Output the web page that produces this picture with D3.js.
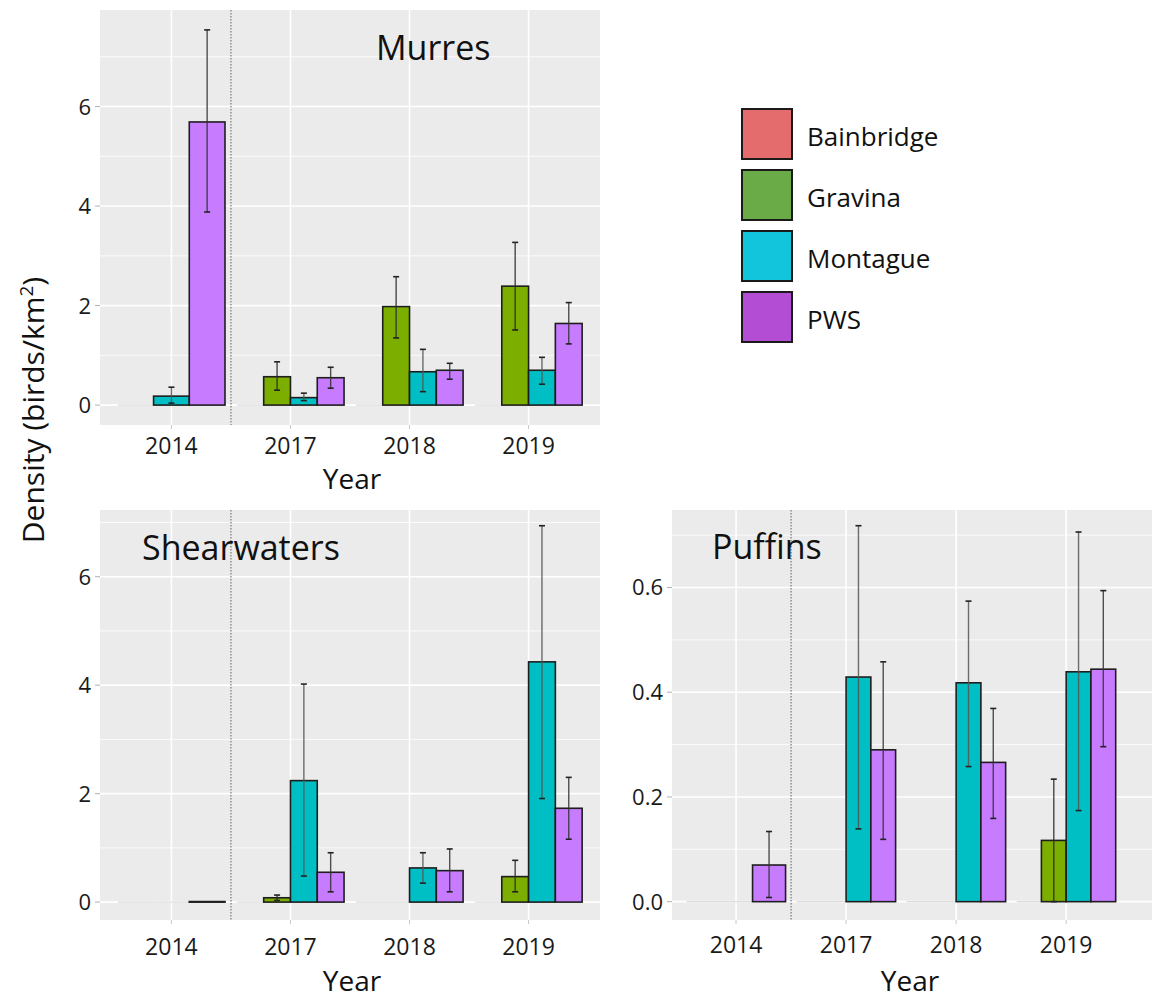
<!DOCTYPE html>
<html>
<head>
<meta charset="utf-8">
<script src="https://cdn.jsdelivr.net/npm/d3@7/dist/d3.min.js"></script>
<style>
  html, body { margin: 0; padding: 0; background: #ffffff; }
  svg { display: block; font-family: "Open Sans", "DejaVu Sans", sans-serif; }
</style>
</head>
<body>
<svg id="chart" width="1157" height="1000"></svg>
<script>
// ---------------- DATA ----------------
const years = ["2014", "2017", "2018", "2019"];
const sites = ["Bainbridge", "Gravina", "Montague", "PWS"];
const barColors = ["#F8766D", "#7CAE00", "#00BFC4", "#C77CFF"];
const legendColors = ["#E46C6C", "#6AAB47", "#12C5DC", "#B24DD4"];

// rows = years, columns = sites (null = not surveyed that year)
const murresMean = [[0, null, 0.18, 5.69], [0, 0.57, 0.15, 0.55], [0, 1.98, 0.67, 0.70], [0, 2.39, 0.70, 1.64]];
const murresLow  = [[null, null, 0.04, 3.88], [null, 0.30, 0.09, 0.34], [null, 1.35, 0.27, 0.52], [null, 1.51, 0.42, 1.23]];
const murresHigh = [[null, null, 0.36, 7.54], [null, 0.87, 0.24, 0.76], [null, 2.58, 1.12, 0.84], [null, 3.27, 0.96, 2.06]];

const shearMean = [[0, null, 0, 0.01], [0, 0.08, 2.24, 0.55], [0, 0, 0.63, 0.58], [0, 0.47, 4.43, 1.73]];
const shearLow  = [[null, null, null, null], [null, 0.03, 0.48, 0.19], [null, null, 0.35, 0.19], [null, 0.19, 1.91, 1.16]];
const shearHigh = [[null, null, null, null], [null, 0.13, 4.02, 0.91], [null, null, 0.91, 0.98], [null, 0.77, 6.94, 2.30]];

const puffinMean = [[0, null, 0, 0.070], [0, 0, 0.429, 0.290], [0, 0, 0.418, 0.266], [0, 0.117, 0.439, 0.444]];
const puffinLow  = [[null, null, null, 0.008], [null, null, 0.139, 0.119], [null, null, 0.258, 0.159], [null, 0.0, 0.174, 0.296]];
const puffinHigh = [[null, null, null, 0.134], [null, null, 0.718, 0.458], [null, null, 0.574, 0.369], [null, 0.234, 0.706, 0.594]];

const murresTicks = [0, 2, 4, 6];
const murresMinor = [1, 3, 5, 7];
const shearTicks = [0, 2, 4, 6];
const shearMinor = [1, 3, 5, 7];
const puffinTicks = [0, 0.2, 0.4, 0.6];
const puffinMinor = [0.1, 0.3, 0.5, 0.7];
const puffinTickLabels = ["0.0", "0.2", "0.4", "0.6"];

// ---------------- LAYOUT ----------------
const svg = d3.select("#chart");

const panels = [
  { title: "Murres", mean: murresMean, low: murresLow, high: murresHigh,
    ticks: murresTicks, minor: murresMinor, tickFmt: d => String(d),
    left: 100, right: 600, top: 10, bottom: 425,
    xDomain: [0.4, 4.6], yDomain: [-0.40, 7.94],
    titleX: 376, titleY: 60, xLabY: 454, yearX: 352, yearY: 489 },
  { title: "Shearwaters", mean: shearMean, low: shearLow, high: shearHigh,
    ticks: shearTicks, minor: shearMinor, tickFmt: d => String(d),
    left: 100, right: 600, top: 510, bottom: 920,
    xDomain: [0.4, 4.6], yDomain: [-0.33, 7.23],
    titleX: 142, titleY: 560, xLabY: 955, yearX: 352, yearY: 991 },
  { title: "Puffins", mean: puffinMean, low: puffinLow, high: puffinHigh,
    ticks: puffinTicks, minor: puffinMinor, tickFmt: (d, i) => puffinTickLabels[i],
    left: 672, right: 1152, top: 510, bottom: 920,
    xDomain: [0.418, 4.78], yDomain: [-0.035, 0.748],
    titleX: 712, titleY: 559, xLabY: 953, yearX: 910, yearY: 991 }
];

const errColors = ["#444444", "#2b2b2b", "#555555", "#333333"];

panels.forEach(p => {
  const x = d3.scaleLinear().domain(p.xDomain).range([p.left, p.right]);
  const y = d3.scaleLinear().domain(p.yDomain).range([p.bottom, p.top]);
  const g = svg.append("g");

  // background
  g.append("rect")
    .attr("x", p.left).attr("y", p.top)
    .attr("width", p.right - p.left).attr("height", p.bottom - p.top)
    .attr("fill", "#EBEBEB");

  // minor horizontal gridlines
  g.selectAll(".minor").data(p.minor.filter(v => y(v) > p.top)).enter().append("line")
    .attr("x1", p.left).attr("x2", p.right)
    .attr("y1", d => y(d)).attr("y2", d => y(d))
    .attr("stroke", "#ffffff").attr("stroke-width", 0.8);

  // major horizontal gridlines
  g.selectAll(".major").data(p.ticks).enter().append("line")
    .attr("x1", p.left).attr("x2", p.right)
    .attr("y1", d => y(d)).attr("y2", d => y(d))
    .attr("stroke", "#ffffff").attr("stroke-width", 1.6);

  // vertical gridlines at categories
  g.selectAll(".vgrid").data(years).enter().append("line")
    .attr("x1", (d, i) => x(i + 1)).attr("x2", (d, i) => x(i + 1))
    .attr("y1", p.top).attr("y2", p.bottom)
    .attr("stroke", "#ffffff").attr("stroke-width", 1.6);

  // dotted separator between 2014 and 2017
  g.append("line")
    .attr("x1", x(1.5)).attr("x2", x(1.5))
    .attr("y1", p.top).attr("y2", p.bottom)
    .attr("stroke", "#777777").attr("stroke-width", 1.2)
    .attr("stroke-dasharray", "1.5,1.5");

  // bars
  years.forEach((yr, yi) => {
    const row = p.mean[yi];
    const present = sites.map((s, si) => si).filter(si => row[si] !== null);
    const n = present.length;
    const w = 0.9 / n;
    present.forEach((si, k) => {
      const x0 = (yi + 1) - 0.45 + k * w;
      const v = row[si];
      const bx = x(x0), bw = x(x0 + w) - x(x0);
      if (v === 0) {
        g.append("line")
          .attr("x1", bx).attr("x2", bx + bw)
          .attr("y1", y(0)).attr("y2", y(0))
          .attr("stroke", "#d4d4d4").attr("stroke-width", 1);
      } else {
        g.append("rect")
          .attr("x", bx).attr("y", y(v))
          .attr("width", bw).attr("height", Math.max(0.6, y(0) - y(v)))
          .attr("fill", barColors[si])
          .attr("stroke", "#1e1e1e").attr("stroke-width", 1.6);
      }
      const lo = p.low[yi][si], hi = p.high[yi][si];
      if (lo !== null && hi !== null) {
        const cx = x(x0 + w / 2);
        const cap = 3;
        const ec = errColors[si];
        g.append("line").attr("x1", cx).attr("x2", cx)
          .attr("y1", y(lo)).attr("y2", y(hi))
          .attr("stroke", ec).attr("stroke-width", 1.4).attr("opacity", 0.85);
        [lo, hi].forEach(e => {
          g.append("line").attr("x1", cx - cap).attr("x2", cx + cap)
            .attr("y1", y(e)).attr("y2", y(e))
            .attr("stroke", "#222222").attr("stroke-width", 1.6);
        });
      }
    });
  });

  // y axis ticks + labels
  g.selectAll(".ytick").data(p.ticks).enter().append("line")
    .attr("x1", p.left - 5).attr("x2", p.left)
    .attr("y1", d => y(d)).attr("y2", d => y(d))
    .attr("stroke", "#b0b0b0").attr("stroke-width", 1);
  g.selectAll(".ylab").data(p.ticks).enter().append("text")
    .attr("x", p.left - 9).attr("y", d => y(d) + 8)
    .attr("text-anchor", "end")
    .attr("font-size", 22).attr("fill", "#1a1a1a")
    .text((d, i) => p.tickFmt(d, i));

  // x axis ticks + labels
  g.selectAll(".xtick").data(years).enter().append("line")
    .attr("x1", (d, i) => x(i + 1)).attr("x2", (d, i) => x(i + 1))
    .attr("y1", p.bottom).attr("y2", p.bottom + 4)
    .attr("stroke", "#c8c8c8").attr("stroke-width", 1);
  g.selectAll(".xlab").data(years).enter().append("text")
    .attr("x", (d, i) => x(i + 1)).attr("y", p.xLabY)
    .attr("text-anchor", "middle")
    .attr("font-size", 23).attr("fill", "#1a1a1a")
    .text(d => d);

  // axis title
  g.append("text")
    .attr("x", p.yearX).attr("y", p.yearY)
    .attr("text-anchor", "middle")
    .attr("font-size", 28).attr("fill", "#111111")
    .text("Year");

  // panel title
  g.append("text")
    .attr("x", p.titleX).attr("y", p.titleY)
    .attr("font-size", 34).attr("fill", "#111111")
    .text(p.title);
});

// y-axis title
const yt = svg.append("text")
  .attr("transform", "translate(44,410) rotate(-90)")
  .attr("text-anchor", "middle")
  .attr("font-size", 30).attr("fill", "#111111");
yt.append("tspan").text("Density (birds/km");
yt.append("tspan").attr("dy", -11).attr("font-size", 19).text("2");
yt.append("tspan").attr("dy", 11).text(")");

// legend
const leg = svg.append("g");
const legY = d3.scaleLinear().domain([0, 3]).range([109, 292]);
sites.forEach((s, i) => {
  leg.append("rect")
    .attr("x", 742).attr("y", legY(i))
    .attr("width", 50).attr("height", 50)
    .attr("fill", legendColors[i])
    .attr("stroke", "#1a1a1a").attr("stroke-width", 2);
  leg.append("text")
    .attr("x", 807).attr("y", legY(i) + 37)
    .attr("font-size", 26).attr("fill", "#111111")
    .text(s);
});
</script>
</body>
</html>
